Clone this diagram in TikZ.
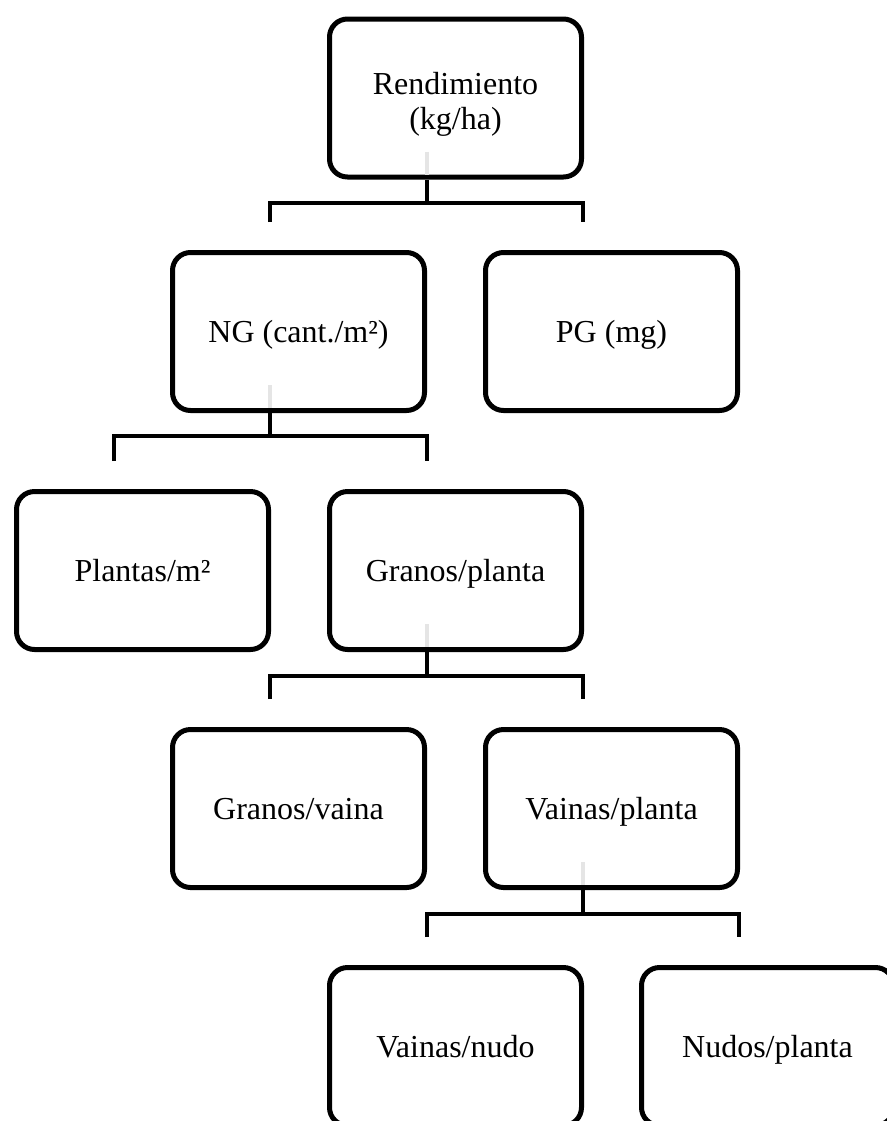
\documentclass[tikz,border=0pt]{standalone}
\usepackage{fontspec}
\setmainfont{Liberation Serif}
\usetikzlibrary{calc}

\begin{document}
\begin{tikzpicture}[x=0.5pt,y=-0.5pt,
                    factor/.style={draw,line width=2.5pt,rounded corners=9pt,minimum width=126pt,
                                   minimum height=79pt,align=center,inner sep=0pt,
                                   font=\fontsize{16}{17.5}\selectfont},
                    single factor/.style={factor,text height=12.5pt,text depth=2pt},
                    link/.style={line width=2pt,black},
                    stub/.style={line width=2pt,black!10}]
      \useasboundingbox (0,0) rectangle (887,1121);
      \clip (0,0) rectangle (887,1121);

      \node[factor] (rend) at (455.5,98) {\rule{0pt}{17pt}Rendimiento\\(kg/ha)};

      \node[single factor] (ng) at (298.5,331.5) {NG (cant./m²)};
      \node[single factor] (pg) at (611.5,331.5) {PG (mg)};

      \node[single factor] (plantas) at (142.5,570.5) {Plantas/m²};
      \node[single factor] (granosplanta) at (455.5,570.5) {Granos/planta};

      \node[single factor] (granosvaina) at (298.5,808.5) {Granos/vaina};
      \node[single factor] (vainasplanta) at (611.5,808.5) {Vainas/planta};

      \node[single factor] (vainasnudo) at (455.5,1046.5) {Vainas/nudo};
      \node[single factor] (nudosplanta) at (767.5,1046.5) {Nudos/planta};

      % rendimiento
      \draw[stub] ($(rend.south)+(-28.5,-28)$) -- ($(rend.south)+(-28.5,-5)$);
      \draw[link] ($(rend.south)+(-28.5,0)$) -- ++(0,23) coordinate (b1);
      \draw[link] ($(ng.north)+(-28.5,-28)$) |- (b1) -| ($(pg.north)+(-28.5,-28)$);

      % ng
      \draw[stub] ($(ng.south)+(-28.5,-28)$) -- ($(ng.south)+(-28.5,-5)$);
      \draw[link] ($(ng.south)+(-28.5,0)$) -- ++(0,23) coordinate (b2);
      \draw[link] ($(plantas.north)+(-28.5,-28)$) |- (b2) -| ($(granosplanta.north)+(-28.5,-28)$);

      % granos/planta
      \draw[stub] ($(granosplanta.south)+(-28.5,-28)$) -- ($(granosplanta.south)+(-28.5,-5)$);
      \draw[link] ($(granosplanta.south)+(-28.5,0)$) -- ++(0,24) coordinate (b3);
      \draw[link] ($(granosvaina.north)+(-28.5,-28)$) |- (b3) -| ($(vainasplanta.north)+(-28.5,-28)$);

      % vainas/planta
      \draw[stub] ($(vainasplanta.south)+(-28.5,-28)$) -- ($(vainasplanta.south)+(-28.5,-5)$);
      \draw[link] ($(vainasplanta.south)+(-28.5,0)$) -- ++(0,24) coordinate (b4);
      \draw[link] ($(vainasnudo.north)+(-28.5,-28)$) |- (b4) -| ($(nudosplanta.north)+(-28.5,-28)$);
\end{tikzpicture}
\end{document}
